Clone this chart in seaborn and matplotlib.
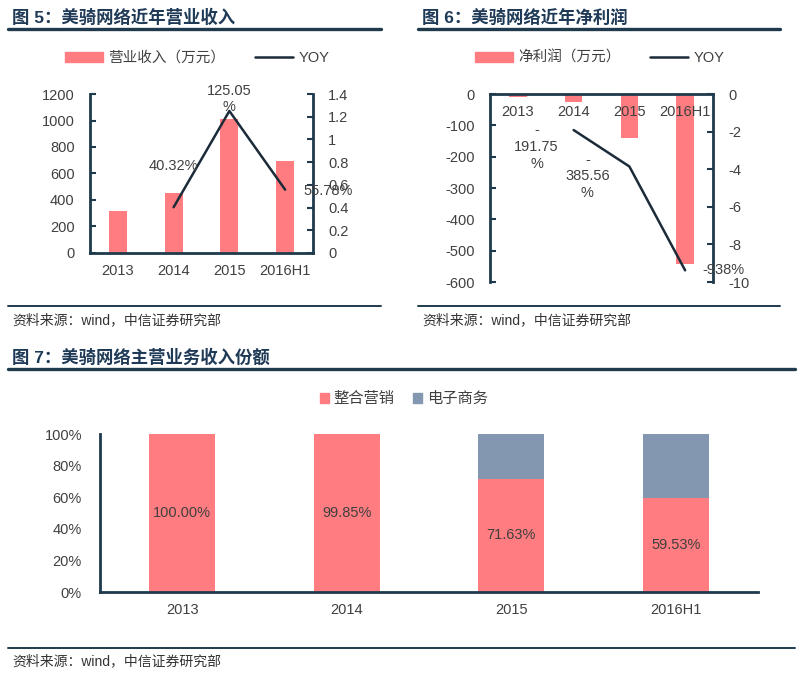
import matplotlib
matplotlib.use("Agg")
import matplotlib.pyplot as plt
from matplotlib.lines import Line2D
from matplotlib.patches import Patch
from matplotlib.ticker import FuncFormatter, MultipleLocator
import seaborn as sns

years = ["2013", "2014", "2015", "2016H1"]

# 图5 营业收入（万元）与同比
revenue = [317, 453, 1011, 694]
revenue_yoy = [None, 0.4032, 1.2505, 0.5578]
revenue_yoy_labels = ["", "40.32%", "125.05\n%", "55.78%"]

# 图6 净利润（万元）与同比
profit = [-10, -25, -140, -543]
profit_yoy = [None, -1.9175, -3.8556, -9.38]
profit_yoy_labels = ["", "-\n191.75\n%", "-\n385.56\n%", "-938%"]

# 图7 主营业务收入份额（%）
share_marketing = [100.00, 99.85, 71.63, 59.53]
share_ecommerce = [0.00, 0.15, 28.37, 40.47]
share_labels = ["100.00%", "99.85%", "71.63%", "59.53%"]

RED = "#FF7C80"
BLUE = "#8497B0"
LINE = "#1C2B39"
AXIS = "#1E3A4C"
TEXT = "#404040"
TITLE = "#1F3A56"

sns.set_theme(style="white")
plt.rcParams["font.family"] = ["Liberation Sans", "Noto Sans CJK SC"]
plt.rcParams["axes.unicode_minus"] = False

fig = plt.figure(figsize=(8, 6.77), dpi=100)
W, H = 800, 677


def fx(px):
    return px / W


def fy(py):
    return 1 - py / H


def style(ax, spines):
    ax.set_axisbelow(False)
    for name, sp in ax.spines.items():
        sp.set_visible(name in spines)
        sp.set_color(AXIS)
        sp.set_linewidth(2)
    ax.tick_params(axis="y", direction="in", length=4, width=1.5, color=AXIS,
                   labelcolor=TEXT, labelsize=10.5, pad=11)
    ax.tick_params(axis="x", length=0, labelcolor=TEXT, labelsize=10.5, pad=8)
    ax.set_xlabel("")
    ax.set_ylabel("")
    ax.grid(False)


def header(x0, x1, ytitle, yline, ybottom, text):
    fig.text(fx(x0 + 4), fy(ytitle), text, fontsize=12.5, fontweight="bold",
             color=TITLE, va="center", ha="left")
    fig.add_artist(Line2D([fx(x0), fx(x1)], [fy(yline)] * 2, color=AXIS, lw=2.4))
    fig.add_artist(Line2D([fx(x0), fx(x1)], [fy(ybottom)] * 2, color=AXIS, lw=1.4))
    fig.text(fx(x0 + 4), fy(ybottom + 14), "资料来源：wind，中信证券研究部",
             fontsize=10, color="#333333", va="center", ha="left")


def gfmt(v, pos):
    return "{:g}".format(round(v, 2))


# ---- 图5 ----
header(8, 381, 17, 29, 306, "图 5：美骑网络近年营业收入")
ax1 = fig.add_axes([fx(90), fy(253), fx(223), 159 / H])
sns.barplot(x=years, y=revenue, color=RED, saturation=1, width=0.32,
            linewidth=0, ax=ax1)
ax1.set_xlim(-0.5, 3.5)
ax1.set_ylim(0, 1200)
ax1.yaxis.set_major_locator(MultipleLocator(200))
style(ax1, ["left", "bottom"])

ax1b = ax1.twinx()
idx = [i for i, v in enumerate(revenue_yoy) if v is not None]
sns.lineplot(x=idx, y=[revenue_yoy[i] for i in idx], color=LINE, lw=1.8, ax=ax1b)
ax1b.set_ylim(0, 1.4)
ax1b.yaxis.set_major_locator(MultipleLocator(0.2))
ax1b.yaxis.set_major_formatter(FuncFormatter(gfmt))
style(ax1b, ["right"])
for i, off in zip(idx, [(0, 41), (0, 12), (43, -1)]):
    ax1b.annotate(revenue_yoy_labels[i], (i, revenue_yoy[i]), xytext=off,
                  textcoords="offset pixels", ha="center", va="center",
                  fontsize=10.5, color=TEXT, linespacing=1.25)

ax1.legend(handles=[Patch(color=RED), Line2D([], [], color=LINE, lw=1.8)],
           labels=["营业收入（万元）", "YOY"], ncol=2, frameon=False,
           loc="center", bbox_to_anchor=(fx(197), fy(58)),
           bbox_transform=fig.transFigure, handlelength=2.6, handleheight=0.7,
           handletextpad=0.4, columnspacing=2.0, fontsize=10.5,
           labelcolor=TEXT)

# ---- 图6 ----
header(418, 780, 17, 29, 306, "图 6：美骑网络近年净利润")
ax2 = fig.add_axes([fx(490), fy(282), fx(223), 188 / H])
sns.barplot(x=years, y=profit, color=RED, saturation=1, width=0.31,
            linewidth=0, ax=ax2)
ax2.set_xlim(-0.5, 3.5)
ax2.set_ylim(-600, 0)
ax2.yaxis.set_major_locator(MultipleLocator(100))
style(ax2, ["left", "bottom"])
ax2.spines["bottom"].set_position(("data", 0))

ax2b = ax2.twinx()
idx = [i for i, v in enumerate(profit_yoy) if v is not None]
sns.lineplot(x=idx, y=[profit_yoy[i] for i in idx], color=LINE, lw=1.8, ax=ax2b)
ax2b.set_ylim(-10, 0)
ax2b.yaxis.set_major_locator(MultipleLocator(2))
ax2b.yaxis.set_major_formatter(FuncFormatter(gfmt))
style(ax2b, ["right"])
for i, off in zip(idx, [(-37, -17), (-42, -10), (38, 0)]):
    ax2b.annotate(profit_yoy_labels[i], (i, profit_yoy[i]), xytext=off,
                  textcoords="offset pixels", ha="center", va="center",
                  fontsize=10.5, color=TEXT, linespacing=1.25)

ax2.legend(handles=[Patch(color=RED), Line2D([], [], color=LINE, lw=1.8)],
           labels=["净利润（万元）", "YOY"], ncol=2, frameon=False,
           loc="center", bbox_to_anchor=(fx(600), fy(58)),
           bbox_transform=fig.transFigure, handlelength=2.6, handleheight=0.7,
           handletextpad=0.4, columnspacing=2.0, fontsize=10.5,
           labelcolor=TEXT)

# ---- 图7 ----
fig.text(fx(12), fy(357), "图 7：美骑网络主营业务收入份额", fontsize=12.5,
         fontweight="bold", color=TITLE, va="center", ha="left")
fig.add_artist(Line2D([fx(8), fx(795)], [fy(369)] * 2, color=AXIS, lw=2.4))
fig.add_artist(Line2D([fx(8), fx(795)], [fy(648)] * 2, color=AXIS, lw=1.4))
fig.text(fx(12), fy(661), "资料来源：wind，中信证券研究部", fontsize=10,
         color="#333333", va="center", ha="left")

ax3 = fig.add_axes([fx(100), fy(592), fx(658), 158 / H])
totals = [m + e for m, e in zip(share_marketing, share_ecommerce)]
sns.barplot(x=years, y=totals, color=BLUE, saturation=1, width=0.4,
            linewidth=0, ax=ax3)
sns.barplot(x=years, y=share_marketing, color=RED, saturation=1, width=0.4,
            linewidth=0, ax=ax3)
ax3.set_xlim(-0.5, 3.5)
ax3.set_ylim(0, 100)
ax3.yaxis.set_major_locator(MultipleLocator(20))
ax3.yaxis.set_major_formatter(FuncFormatter(lambda v, p: "{:.0f}%".format(v)))
style(ax3, ["left", "bottom"])
ax3.tick_params(axis="y", pad=13)
for i, (v, lab) in enumerate(zip(share_marketing, share_labels)):
    ax3.text(i, v / 2, lab, ha="center", va="center", fontsize=10.5, color=TEXT)

ax3.legend(handles=[Patch(color=RED), Patch(color=BLUE)],
           labels=["整合营销", "电子商务"], ncol=2, frameon=False,
           loc="center", bbox_to_anchor=(fx(404), fy(399)),
           bbox_transform=fig.transFigure, handlelength=0.6, handleheight=0.6,
           handletextpad=0.3, columnspacing=1.2, fontsize=11, labelcolor=TEXT)

fig.savefig("out.png", dpi=100, facecolor="white")
